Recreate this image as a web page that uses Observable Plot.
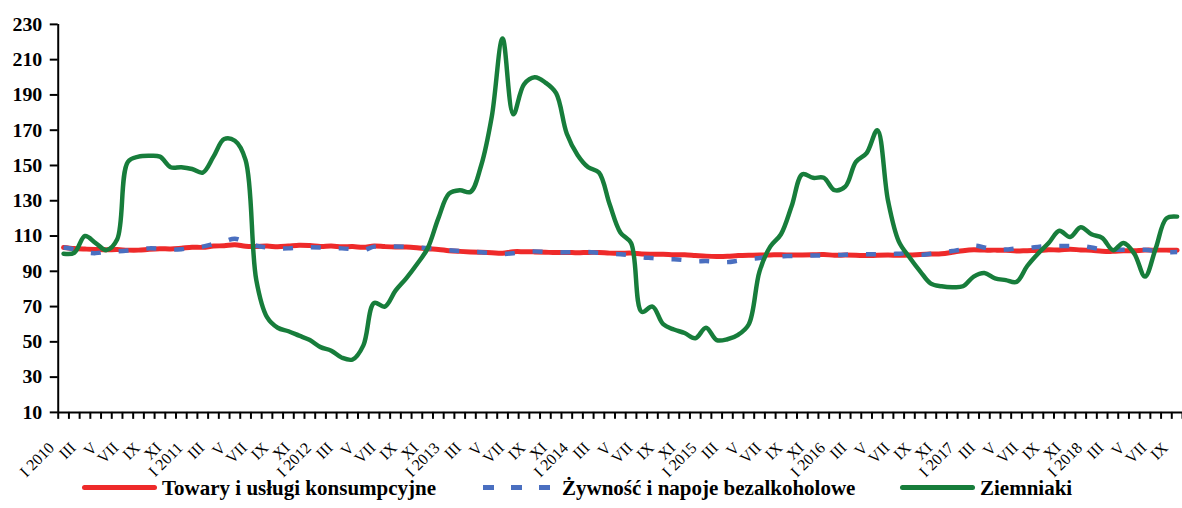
<!DOCTYPE html>
<html><head><meta charset="utf-8">
<script src="https://cdn.jsdelivr.net/npm/d3@7"></script>
<script src="https://cdn.jsdelivr.net/npm/@observablehq/plot@0.6"></script>
<style>
html,body{margin:0;padding:0;background:#fff;}
#wrap{position:relative;width:1182px;height:508px;overflow:hidden;}
#legend{position:absolute;left:0;top:0;width:1182px;height:508px;pointer-events:none;font-family:"Liberation Serif","Times New Roman",serif;font-weight:bold;font-size:21px;color:#000;}
.sw{position:absolute;}
.lt{position:absolute;top:478px;line-height:21px;white-space:nowrap;}
</style></head><body>
<div id="wrap"><div id="chart"></div><div id="legend"></div></div>
<script>
const seriesNames = ["Towary i usługi konsumpcyjne", "Żywność i napoje bezalkoholowe", "Ziemniaki"];
const seriesColors = ["#ee2a2a", "#4a6fc0", "#177d3b"];

const tickLabels = [
  "I 2010","III","V","VII","IX","XI",
  "I 2011","III","V","VII","IX","XI",
  "I 2012","III","V","VII","IX","XI",
  "I 2013","III","V","VII","IX","XI",
  "I 2014","III","V","VII","IX","XI",
  "I 2015","III","V","VII","IX","XI",
  "I 2016","III","V","VII","IX","XI",
  "I 2017","III","V","VII","IX","XI",
  "I 2018","III","V","VII","IX"
];
const yTicks = [10,30,50,70,90,110,130,150,170,190,210,230];

// Jan 2010 .. Sep 2018, monthly
const towary = [
  103.5,102.9,102.6,102.4,102.2,102.3,102.0,102.0,102.5,102.8,102.7,103.1,
  103.6,103.6,104.3,104.5,105.0,104.2,104.1,104.3,103.9,104.3,104.8,104.6,
  104.1,104.3,103.9,104.0,103.6,104.3,104.0,103.8,103.8,103.4,102.8,102.4,
  101.7,101.3,101.0,100.8,100.5,100.2,101.1,101.1,101.0,100.8,100.6,100.7,
  100.5,100.7,100.7,100.3,100.2,100.3,99.8,99.7,99.7,99.4,99.4,99.0,
  98.6,98.4,98.5,98.9,99.1,99.2,99.3,99.4,99.2,99.3,99.4,99.5,
  99.1,99.2,99.1,98.9,99.1,99.2,99.1,99.2,99.5,99.8,100.0,100.8,
  101.7,102.2,102.0,102.0,101.9,101.5,101.7,101.8,102.2,102.1,102.5,102.1,
  101.9,101.4,101.3,101.6,101.7,102.0,102.0,102.0,101.9
];
const zywnosc = [
  103.5,102.5,100.8,100.3,101.0,101.3,101.8,102.5,103.0,102.8,102.3,102.5,
  103.5,104.0,105.5,107.0,108.5,106.5,104.5,103.5,103.0,103.0,103.5,103.7,
  103.5,103.0,103.0,102.5,102.0,104.0,104.0,104.0,103.8,103.5,103.2,102.5,
  102.0,101.5,101.0,100.8,100.2,99.8,100.2,101.0,101.3,101.0,100.7,100.8,
  101.0,101.0,100.5,100.0,99.7,99.0,98.0,97.5,97.0,96.8,96.3,95.6,
  95.8,95.4,95.2,96.0,96.9,97.5,98.2,98.5,98.7,98.9,99.0,99.0,
  99.1,99.4,99.7,99.7,99.7,99.7,100.0,100.3,99.3,100.0,100.7,101.5,
  102.5,104.5,103.5,102.3,102.3,103.0,103.2,103.8,104.4,104.4,104.4,104.4,
  103.5,102.5,102.2,102.2,102.2,102.2,101.5,100.9,100.9
];
const ziemniaki = [
  100,100.5,110,106,102,108,152,155,155.5,155,149,149,
  148,146,155,165,164,153,85,64,58,56,53.5,51,
  47,45,41,40,48,72,70,79,86,94,103,120,
  134,136,135,150,178,222,179,196,200,197,191,168,
  156,149,146,128,112,106,67,70,60,57,55,52,
  58,51,51.5,54,60,90,104,111,127,145,143,143,
  136,138,152,157,170,130,107,98,90,83,81.5,81,
  81.5,87,89,86,85,84,93,100,106,113,109.5,115,
  111,109,102,106,100,87,103,120,121
];

const toRows = arr => arr.map((v, i) => ({i, v}));
const labelRows = tickLabels.map((t, k) => ({i: k * 2, t}));
const boundaries = d3.range(-0.5, towary.length + 0.5, 1);
const font = '"Liberation Serif","Times New Roman",serif';

const chart = Plot.plot({
  width: 1188,
  height: 508,
  marginLeft: 58,
  marginRight: 0,
  marginTop: 24,
  marginBottom: 94,
  style: {fontFamily: font, background: "white", color: "black", overflow: "visible"},
  x: {type: "linear", domain: [-0.5, towary.length - 0.5]},
  y: {domain: [10, 230]},
  marks: [
    Plot.axisY({ticks: yTicks, tickSize: 8, tickPadding: 8, strokeWidth: 2, fontSize: 20, fontWeight: "bold", fontFamily: font, label: null}),
    Plot.axisX({ticks: boundaries, tickSize: 7, tickFormat: () => "", strokeWidth: 2, label: null}),
    Plot.ruleY([10], {stroke: "black", strokeWidth: 2}),
    Plot.ruleX([-0.5], {stroke: "black", strokeWidth: 2}),
    Plot.line(toRows(towary), {x: "i", y: "v", stroke: seriesColors[0], strokeWidth: 5, curve: "catmull-rom"}),
    Plot.line(toRows(zywnosc), {x: "i", y: "v", stroke: seriesColors[1], strokeWidth: 4.5, strokeDasharray: "10,18", strokeLinecap: "butt", curve: "catmull-rom"}),
    Plot.line(toRows(ziemniaki), {x: "i", y: "v", stroke: seriesColors[2], strokeWidth: 4.5, curve: "catmull-rom"}),
    Plot.text(labelRows, {x: "i", text: "t", frameAnchor: "bottom", rotate: -45, textAnchor: "end", lineAnchor: "middle", dx: -12, dy: 33, fontSize: 16, fontFamily: font, fill: "black"})
  ]
});
document.getElementById("chart").appendChild(chart);

// legend
const lg = document.getElementById("legend");
function add(html){ lg.insertAdjacentHTML("beforeend", html); }
add(`<div class="sw" style="left:82px;top:485px;width:75px;height:5px;border-radius:3px;background:${seriesColors[0]}"></div>`);
add(`<div class="lt" style="left:162px">${seriesNames[0]}</div>`);
[483, 511, 539].forEach(x => add(`<div class="sw" style="left:${x}px;top:485px;width:11px;height:5px;background:${seriesColors[1]}"></div>`));
add(`<div class="lt" style="left:562px">${seriesNames[1]}</div>`);
add(`<div class="sw" style="left:900px;top:485px;width:75px;height:5px;border-radius:3px;background:${seriesColors[2]}"></div>`);
add(`<div class="lt" style="left:980px">${seriesNames[2]}</div>`);
</script>
</body></html>
